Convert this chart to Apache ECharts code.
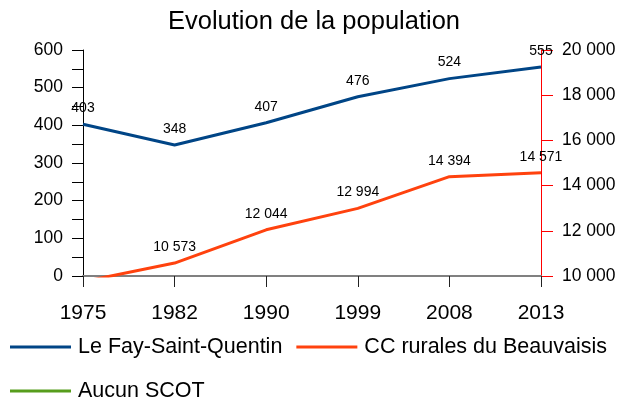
<!DOCTYPE html>
<html>
<head>
<meta charset="utf-8">
<script src="https://cdn.jsdelivr.net/npm/echarts@6/dist/echarts.min.js"></script>
<style>
  html, body { margin: 0; padding: 0; background: #fff; }
  #chart { width: 619px; height: 401px; }
</style>
</head>
<body>
<div id="chart"></div>
<script>
const years = ['1975', '1982', '1990', '1999', '2008', '2013'];
const fayValues = [403, 348, 407, 476, 524, 555];
// 1975 value sits below the 10 000 floor of the right axis, so it is clipped
const ccValues = [9750, 10573, 12044, 12994, 14394, 14571];
const scotValues = [];

const font = "'Liberation Sans', Arial, sans-serif";
const spaced = v => String(v).replace(/\B(?=(\d{3})+(?!\d))/g, ' ');

const legendText = { fontFamily: font, fontSize: 21.5, color: '#000', lineHeight: 24, padding: [0, 0, 0, 2] };

const chart = echarts.init(document.getElementById('chart'));
const option = {
    animation: false,
    backgroundColor: '#fff',
    textStyle: { fontFamily: font, color: '#000' },
    title: {
        text: 'Evolution de la population',
        left: 163,
        top: 4,
        textStyle: { fontFamily: font, fontSize: 25.5, fontWeight: 'normal', color: '#000' }
    },
    legend: [{
        data: ['Le Fay-Saint-Quentin', 'CC rurales du Beauvaisis'],
        left: 5,
        top: 330,
        icon: 'rect',
        itemWidth: 61,
        itemHeight: 3,
        itemGap: 14,
        textStyle: legendText
    }, {
        data: ['Aucun SCOT'],
        left: 5,
        top: 374,
        icon: 'rect',
        itemWidth: 61,
        itemHeight: 3,
        textStyle: legendText
    }],
    grid: { left: 83, right: 78, top: 50, bottom: 125, containLabel: false },
    xAxis: {
        type: 'category',
        data: years,
        boundaryGap: false,
        axisLine: { lineStyle: { color: '#808080', width: 2 } },
        axisTick: { length: 11, lineStyle: { color: '#222' } },
        axisLabel: { margin: 27, fontSize: 21, color: '#000', fontFamily: font }
    },
    yAxis: [{
        type: 'value',
        min: 0,
        max: 600,
        interval: 50,
        splitLine: { show: false },
        axisLine: { show: true, lineStyle: { color: '#000' } },
        axisTick: { show: true, length: 11, lineStyle: { color: '#000' } },
        axisLabel: {
            margin: 20, fontSize: 17.5, color: '#000', fontFamily: font,
            formatter: v => (v % 100 === 0 ? v : '')
        }
    }, {
        type: 'value',
        position: 'right',
        min: 10000,
        max: 20000,
        interval: 2000,
        splitLine: { show: false },
        axisLine: { show: true, lineStyle: { color: '#ff0000' } },
        axisTick: { show: true, length: 12, lineStyle: { color: '#ff0000' } },
        axisLabel: { margin: 21, fontSize: 17.5, color: '#000', fontFamily: font, formatter: spaced }
    }],
    series: [{
        name: 'Le Fay-Saint-Quentin',
        type: 'line',
        yAxisIndex: 0,
        data: fayValues,
        color: '#004586',
        symbol: 'circle',
        symbolSize: 0.1,
        lineStyle: { width: 3 },
        label: { show: true, position: 'top', distance: 9, fontSize: 14, color: '#000', fontFamily: font }
    }, {
        name: 'CC rurales du Beauvaisis',
        type: 'line',
        yAxisIndex: 1,
        data: ccValues.map((v, i) => (i === 0 ? { value: v, label: { show: false } } : v)),
        color: '#ff420e',
        symbol: 'circle',
        symbolSize: 0.1,
        clip: true,
        lineStyle: { width: 3 },
        label: {
            show: true, position: 'top', distance: 9, fontSize: 14, color: '#000', fontFamily: font,
            formatter: p => spaced(p.value)
        }
    }, {
        name: 'Aucun SCOT',
        type: 'line',
        yAxisIndex: 0,
        data: scotValues,
        color: '#579d1c',
        lineStyle: { width: 3 }
    }]
};
chart.setOption(option);
</script>
</body>
</html>
